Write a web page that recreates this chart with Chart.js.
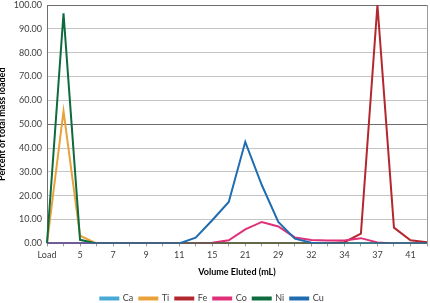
<!DOCTYPE html>
<html><head><meta charset="utf-8">
<script src="https://cdn.jsdelivr.net/npm/chart.js@4/dist/chart.umd.min.js"></script>
<style>html,body{margin:0;padding:0;background:#fff;}canvas{display:block;}</style>
</head><body>
<canvas id="c" width="430" height="303"></canvas>
<script>
const categories = ["Load","4","5","6","7","8","9","10","11","13","15","18","21","25","29","31","32","33","34","36","37","39","41","43"];
const seriesNames = ["Ca","Ti","Fe","Co","Ni","Cu"];
const ca = [0,0,0,0,0,0,0,0,0,0,0,0,0,0,0,0,0,0,0,0,0,0,0,0];
const ti = [0,55.5,3.2,0,0,0,0,0,0,0,0,0,0,0,0,0,0,0,0,0,0,0,0,0];
const fe = [0,0,0,0,0,0,0,0,0,0,0,0,0,0,0,0,0,0,0.5,4.1,100,6.6,1.3,0.5];
const co = [0,0,0,0,0,0,0,0,0,0,0.3,1.3,5.9,9.0,7.1,2.5,1.4,1.2,1.2,2.2,0.4,0,0,0];
const ni = [0,96.5,1.5,0,0,0,0,0,0,0,0,0,0,0,0,0,0,0,0,0,0,0,0,0];
const cu = [0,0,0,0,0,0,0,0,0,2.4,9.7,17.4,42.6,24.5,9.0,2.0,0.3,0,0,0,0,0,0,0];
const colors = ["#46A9D6","#E9A23A","#B3282F","#DF3079","#0E6B3D","#1F6DB0"];

const values = [ca,ti,fe,co,ni,cu];
const datasets = seriesNames.map((n,i)=>({
  label:n, data:values[i], borderColor:colors[i], backgroundColor:colors[i],
  borderWidth:2, pointRadius:0, tension:0, order:5-i
}));

const rightBorder = {
  id:'rightBorder',
  afterDraw(chart){
    const {ctx, chartArea:a} = chart;
    ctx.save();
    ctx.strokeStyle='#9a9a9a'; ctx.lineWidth=1;
    ctx.beginPath(); ctx.moveTo(Math.round(a.right)+0.5,a.top); ctx.lineTo(Math.round(a.right)+0.5,a.bottom); ctx.stroke();
    ctx.restore();
  }
};

new Chart(document.getElementById('c'),{
  type:'line',
  data:{labels:categories, datasets},
  plugins:[rightBorder],
  options:{
    responsive:false, animation:false,
    layout:{padding:{left:-3,right:3,top:0,bottom:-10}},
    plugins:{
      tooltip:{enabled:false},
      legend:{position:'bottom',
        labels:{boxWidth:18,boxHeight:2,padding:6,color:'#404040',
          font:{family:'Lato',size:9},
          sort:(a,b)=>a.datasetIndex-b.datasetIndex}}
    },
    scales:{
      x:{
        offset:false,
        grid:{drawOnChartArea:false,drawTicks:true,tickLength:3,color:'#9a9a9a'},
        border:{color:'#9a9a9a'},
        ticks:{autoSkip:false,maxRotation:0,color:'#404040',font:{family:'Lato',size:9},padding:3,
          callback:function(v,i){return i%2===0?this.getLabelForValue(v):'';}},
        title:{display:true,text:'Volume Eluted (mL)',color:'#000',font:{family:'Lato',size:9,weight:'bold'},padding:{top:3,bottom:11}}
      },
      y:{
        min:0,max:100,
        ticks:{stepSize:10,color:'#404040',font:{family:'Lato',size:9},padding:5,
          callback:v=>v.toFixed(2)},
        grid:{drawTicks:false,color:(c)=>(c.tick&&(c.tick.value===100||c.tick.value===50))?'#6e6e6e':'#c4c4c4'},
        border:{color:'#6e6e6e'},
        title:{display:true,text:'Percent of total mass loaded',color:'#000',font:{family:'Lato',size:9,weight:'bold'},padding:{top:0,bottom:4}},
        afterFit:(s)=>{s.width=50; s.paddingTop=5;}
      }
    }
  }
});
</script>
</body></html>
